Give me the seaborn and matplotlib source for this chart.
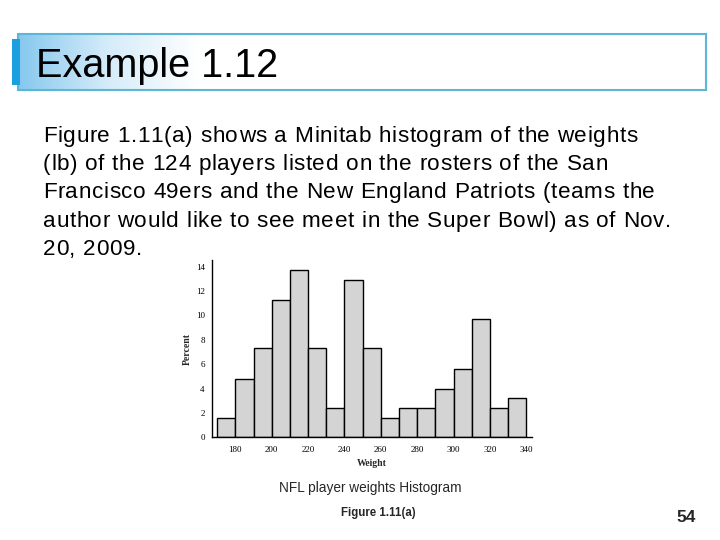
import numpy as np
import pandas as pd
import matplotlib
matplotlib.use("Agg")
import matplotlib.pyplot as plt
import seaborn as sns
from matplotlib.patches import Rectangle
from matplotlib.colors import LinearSegmentedColormap
from matplotlib.font_manager import FontProperties

# ---- data ----
bin_left = [170, 180, 190, 200, 210, 220, 230, 240, 250, 260, 270, 280, 290, 300, 310, 320, 330]
percent = [1.6, 4.8, 7.3, 11.3, 13.7, 7.3, 2.4, 12.9, 7.3, 1.6, 2.4, 2.4, 4.0, 5.6, 9.7, 2.4, 3.2]
bin_edges = list(range(170, 350, 10))
x_ticks = [180, 200, 220, 240, 260, 280, 300, 320, 340]
y_ticks = [0, 2, 4, 6, 8, 10, 12, 14]

title = "Example 1.12"
body_lines = [
    "Figure 1.11(a) shows a Minitab histogram of the weights",
    "(lb) of the 124 players listed on the rosters of the San",
    "Francisco 49ers and the New England Patriots (teams the",
    "author would like to see meet in the Super Bowl) as of Nov.",
    "20, 2009.",
]
caption = "NFL player weights Histogram"
fig_label = "Figure 1.11(a)"
page_no = "54"

sns.set_theme(style="white")
plt.rcParams['font.family'] = ['Liberation Sans', 'DejaVu Sans']

fig = plt.figure(figsize=(7.2, 5.4), dpi=100)
fig.patch.set_facecolor('white')
renderer = fig.canvas.get_renderer()

# background axes in pixel coordinates
bg = fig.add_axes([0, 0, 1, 1])
bg.set_xlim(0, 720)
bg.set_ylim(540, 0)
bg.axis('off')

# gradient fill of title box
cmap = LinearSegmentedColormap.from_list('g', ['#86c8ee', '#d6ecf9', '#ffffff'])
grad = np.linspace(0, 1, 256).reshape(1, -1)
bg.imshow(grad, cmap=cmap, extent=[18, 200, 90, 34], aspect='auto', zorder=1)
bg.add_patch(Rectangle((18, 34), 688, 56, fill=False, edgecolor='#5cb6d6', linewidth=1.5, zorder=3))
bg.add_patch(Rectangle((12, 39), 8, 46, facecolor='#1a9fe0', edgecolor='none', zorder=4))
bg.text(36, 77, title, fontsize=28.5, color='black', va='baseline', ha='left', zorder=5)

# body text with slight letter spacing (tracked)
body_fs = 16.2
fp = FontProperties(family='Liberation Sans', size=body_fs)


def text_w(s):
    w, h, d = renderer.get_text_width_height_descent(s, fp, ismath=False)
    return w


space_w = text_w("a a") - text_w("aa")
tracking = 0.62
y0 = 142
for i, line in enumerate(body_lines):
    x = 43.0
    for ch in line:
        if ch == ' ':
            x += space_w + tracking
            continue
        bg.text(x, y0 + i * 28.2, ch, fontproperties=fp, color='black', va='baseline', ha='left')
        x += text_w(ch) + tracking

bg.text(370, 488, caption, fontsize=9.8, ha='center', va='center')
bg.text(378, 513, fig_label, fontsize=8.3, fontweight='bold', ha='center', va='center')
bg.text(686, 517, page_no, fontsize=12.5, fontweight='bold', ha='center', va='center')

# histogram axes
ax = fig.add_axes([0.294, 0.190, 0.4445, 0.3285])
df = pd.DataFrame({'Weight': bin_left, 'Percent': percent})
sns.histplot(data=df, x='Weight', weights='Percent', bins=bin_edges, stat='count',
             color='#d4d4d4', edgecolor='black', linewidth=1.0, alpha=1, ax=ax)
ax.set_xlim(167, 343)
ax.set_ylim(0, 14.55)
ax.set_xticks(x_ticks)
ax.set_yticks(y_ticks)
serif = ['Liberation Serif', 'DejaVu Serif']
ax.set_xticklabels([str(v) for v in x_ticks], family=serif, fontsize=6.5)
ax.set_yticklabels([str(v) for v in y_ticks], family=serif, fontsize=6.5)
ax.tick_params(axis='x', direction='out', length=3, width=0.8, pad=3, colors='black')
ax.tick_params(axis='y', direction='out', length=3, width=0.8, pad=2, colors='black')
ax.set_xlabel('Weight', family=serif, fontsize=7, fontweight='bold', labelpad=4)
ax.set_ylabel('Percent', family=serif, fontsize=7, fontweight='bold', labelpad=3)
for s in ['top', 'right']:
    ax.spines[s].set_visible(False)
for s in ['left', 'bottom']:
    ax.spines[s].set_color('black')
    ax.spines[s].set_linewidth(1.0)
ax.set_facecolor('white')
ax.patch.set_alpha(0)
ax.grid(False)

fig.savefig('out.png', dpi=100)
